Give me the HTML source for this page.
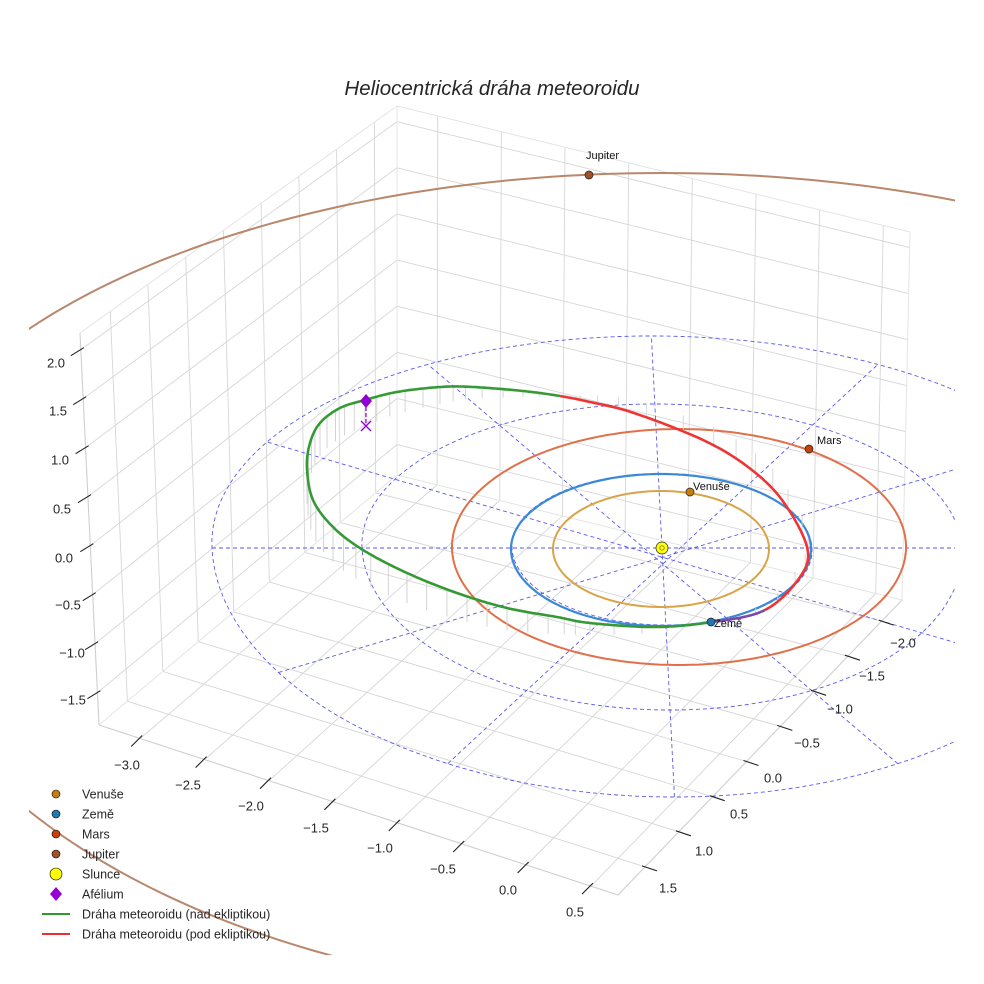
<!DOCTYPE html>
<html><head><meta charset="utf-8">
<style>
html,body{margin:0;padding:0;background:#fff;}
svg{display:block;font-family:"Liberation Sans",sans-serif;}
</style></head>
<body>
<svg id="s" width="984" height="984" viewBox="0 0 984 984" xmlns="http://www.w3.org/2000/svg">
<defs><clipPath id="cj"><rect x="29" y="0" width="926" height="955"/></clipPath>
<clipPath id="cd"><rect x="0" y="0" width="955" height="984"/></clipPath></defs>
<rect width="984" height="984" fill="#fff"/>
<g id="grid"></g>
<g id="orb"></g>
<g id="fg"></g>
<text x="492" y="95" text-anchor="middle" font-size="20.5" font-style="italic" fill="#262626">Heliocentrická dráha meteoroidu</text>
<g font-size="12.5" fill="#262626">
<circle cx="56" cy="794" r="4" fill="#c87d10" stroke="#000" stroke-width="0.6"/><text x="82" y="798.5">Venuše</text>
<circle cx="56" cy="814" r="4" fill="#1f77b4" stroke="#000" stroke-width="0.6"/><text x="82" y="818.5">Země</text>
<circle cx="56" cy="834" r="4" fill="#c8400c" stroke="#000" stroke-width="0.6"/><text x="82" y="838.5">Mars</text>
<circle cx="56" cy="854" r="4" fill="#a0522d" stroke="#000" stroke-width="0.6"/><text x="82" y="858.5">Jupiter</text>
<circle cx="56" cy="874" r="6" fill="#ffff00" stroke="#000" stroke-width="0.6"/><text x="82" y="878.5">Slunce</text>
<path d="M56 887 L62 894 L56 901 L50 894Z" fill="#9400d3"/><text x="82" y="898.5">Afélium</text>
<line x1="42" y1="914" x2="70" y2="914" stroke="#2e9a2e" stroke-width="2"/><text x="82" y="918.5">Dráha meteoroidu (nad ekliptikou)</text>
<line x1="42" y1="934" x2="70" y2="934" stroke="#e83030" stroke-width="2"/><text x="82" y="938.5">Dráha meteoroidu (pod ekliptikou)</text>
</g>
</svg>
<script>
var NS="http://www.w3.org/2000/svg";
function el(p,t,a){var e=document.createElementNS(NS,t);for(var k in a)e.setAttribute(k,a[k]);p.appendChild(e);return e;}
var G=document.getElementById('grid'),O=document.getElementById('orb'),F=document.getElementById('fg');
var xmin=-3.32,xmax=0.71,ymin=-2.3,ymax=1.9,zmin=-1.83,zmax=2.17;
var B={a:[397,475],b:[902,600],c:[99,725],d:[618,895]};
var T={a:[397,106],b:[910,232],c:[80,333],d:[605,485]};
function bl(Q,u,v,i){return (1-u)*(1-v)*Q.a[i]+u*(1-v)*Q.b[i]+(1-u)*v*Q.c[i]+u*v*Q.d[i];}
function P(x,y,z){var u=(x-xmin)/(xmax-xmin),v=(y-ymin)/(ymax-ymin),w=(z-zmin)/(zmax-zmin);
var bx=bl(B,u,v,0),by=bl(B,u,v,1),tx=bl(T,u,v,0),ty=bl(T,u,v,1);return [bx+(tx-bx)*w,by+(ty-by)*w];}
function L(p,q,c,w,par){return el(par||G,'line',{x1:p[0].toFixed(1),y1:p[1].toFixed(1),x2:q[0].toFixed(1),y2:q[1].toFixed(1),stroke:c,'stroke-width':w});}
var gc="#d6d6d6";
var xt=[-3,-2.5,-2,-1.5,-1,-0.5,0,0.5],yt=[-2,-1.5,-1,-0.5,0,0.5,1,1.5],zt=[-1.5,-1,-0.5,0,0.5,1,1.5,2];
xt.forEach(function(x){L(P(x,ymin,zmin),P(x,ymax,zmin),gc,0.9);});
yt.forEach(function(y){L(P(xmin,y,zmin),P(xmax,y,zmin),gc,0.9);});
xt.forEach(function(x){L(P(x,ymin,zmin),P(x,ymin,zmax),gc,0.9);});
zt.forEach(function(z){L(P(xmin,ymin,z),P(xmax,ymin,z),gc,0.9);});
yt.forEach(function(y){L(P(xmin,y,zmin),P(xmin,y,zmax),gc,0.9);});
zt.forEach(function(z){L(P(xmin,ymin,z),P(xmin,ymax,z),gc,0.9);});
var ec="#e4e4e4";
[[[xmin,ymin,zmax],[xmax,ymin,zmax]],[[xmax,ymin,zmax],[xmax,ymin,zmin]],[[xmin,ymin,zmax],[xmin,ymax,zmax]],[[xmin,ymin,zmin],[xmin,ymin,zmax]],[[xmin,ymin,zmin],[xmax,ymin,zmin]],[[xmin,ymin,zmin],[xmin,ymax,zmin]]].forEach(function(e){L(P.apply(null,e[0]),P.apply(null,e[1]),ec,1);});
var ac="#cfcfcf";
L(P(xmin,ymax,zmin),P(xmax,ymax,zmin),ac,1.1);
L(P(xmax,ymax,zmin),P(xmax,ymin,zmin),ac,1.1);
L(P(xmin,ymax,zmin),P(xmin,ymax,zmax),ac,1.1);
var tc="#222";
xt.forEach(function(x){var p=P(x,ymax,zmin);L([p[0]+2,p[1]-3],[p[0]-9,p[1]+8],tc,1.1,F);});
yt.forEach(function(y){var p=P(xmax,y,zmin);L([p[0]-3,p[1]-1],[p[0]+12,p[1]+4],tc,1.1,F);});
zt.forEach(function(z){var p=P(xmin,ymax,z);L([p[0]+3,p[1]-2],[p[0]-10,p[1]+6],tc,1.1,F);});
function T2(x,y,s,par){var t=el(par||F,'text',{x:x,y:y+4.5,'text-anchor':'middle','font-size':13,fill:'#262626'});t.textContent=s;}
function lab(v){return (v<0?'\u2212':'')+Math.abs(v).toFixed(1);}
var xl=[[127,765],[188,785],[251,806],[316,828],[380,848],[443,869],[508,890],[575,912]];
xt.forEach(function(v,i){T2(xl[i][0],xl[i][1],lab(v));});
var yl=[[903,643],[872,676],[840,709],[807,743],[773,778],[739,814],[704,851],[668,888]];
yt.forEach(function(v,i){T2(yl[i][0],yl[i][1],lab(v));});
var zl=[[73,700],[72,653],[68,605],[64,558],[62,509],[60,460],[58,411],[56,363]];
zt.forEach(function(v,i){T2(zl[i][0],zl[i][1],lab(v));});

var cx=662,cy=548;
function ring(rx,ru,rd,sh){var d="";for(var i=0;i<=360;i++){var t=i*Math.PI/180,s=Math.sin(t),c=Math.cos(t);var dy=(s<0?ru:rd)*s;var x=cx+rx*c+sh*dy,y=cy+dy;d+=(i?"L":"M")+x.toFixed(1)+" "+y.toFixed(1);}return d;}
var dg=el(O,'g',{'clip-path':'url(#cd)'});
[[150,74,77],[300,144,162],[450,212,249]].forEach(function(r){el(dg,'path',{d:ring(r[0],r[1],r[2],0.05),fill:'none',stroke:'#5a5aee','stroke-width':0.9,'stroke-dasharray':'4,3'});});
for(var k=0;k<6;k++){var t=k*Math.PI/6;var pts=[];[t,t+Math.PI].forEach(function(a){var s=Math.sin(a),c=Math.cos(a);var dy=(s<0?212:249)*s;pts.push([cx+450*c+0.05*dy,cy+dy]);});
el(dg,'line',{x1:pts[0][0],y1:pts[0][1],x2:pts[1][0],y2:pts[1][1],stroke:'#5a5aee','stroke-width':0.9,'stroke-dasharray':'4,3'});}
function ell(cx2,cy2,rx,ru,rd){var d="";for(var i=0;i<=360;i++){var t=i*Math.PI/180,s=Math.sin(t),c=Math.cos(t);d+=(i?"L":"M")+(cx2+rx*c).toFixed(1)+" "+(cy2+(s<0?ru:rd)*s).toFixed(1);}return d;}
el(O,'path',{d:ell(662,548,780,375,450),fill:'none',stroke:'#b9876c','stroke-width':2,'clip-path':'url(#cj)'});
el(O,'path',{d:ell(679,547,227,118,118),fill:'none',stroke:'#e0704a','stroke-width':2});
el(O,'path',{d:ell(661,549,150,75,77),fill:'none',stroke:'#3a88d8','stroke-width':2.2});
el(O,'path',{d:ell(661,549,108,58,58),fill:'none',stroke:'#d9a448','stroke-width':2});

var K=[[560,396],[590,402],[634,413],[703,440],[748,467],[782,500],[807,547],[800,577],[765,610],[712,622],[655,627],[590,623],[557,617],[507,608],[457,593],[407,573],[363,550],[333,527],[313,500],[307,468],[310,443],[320,423],[340,408],[365,400],[397,392],[440,387],[473,387],[523,391]];
var n=K.length,D=[],idx=[];
for(var i=0;i<n;i++){var p0=K[(i-1+n)%n],p1=K[i],p2=K[(i+1)%n],p3=K[(i+2)%n];idx.push(D.length);
for(var j=0;j<20;j++){var t=j/20,t2=t*t,t3=t2*t;
var f=function(a,b,c,d){return 0.5*((2*b)+(-a+c)*t+(2*a-5*b+4*c-d)*t2+(-a+3*b-3*c+d)*t3);};
D.push([f(p0[0],p1[0],p2[0],p3[0]),f(p0[1],p1[1],p2[1],p3[1])]);}}
D.push(D[0]);
function seg(a,b){var s="";for(var i=a;i<=b;i++)s+=(i==a?"M":"L")+D[i][0].toFixed(1)+" "+D[i][1].toFixed(1);return s;}
var gi0=idx[9],N=D.length-1,ri1=idx[9];
for(var i=gi0;i<N;i+=8){var fr=(i-gi0)/(N-gi0);var Ls=Math.sin(fr*Math.PI)*36;L(D[i],[D[i][0],D[i][1]+Ls],'#cfcfcf',0.9,O);}
for(var i=4;i<ri1;i+=10){var fr=i/ri1;var Ls=Math.sin(fr*Math.PI)*20;L(D[i],[D[i][0],D[i][1]-Ls],'#d4d4d4',0.9,O);}
el(O,'path',{d:seg(0,idx[8]),fill:'none',stroke:'#ee3434','stroke-width':2.6});
el(O,'path',{d:seg(idx[8],idx[9]),fill:'none',stroke:'#7a4aa8','stroke-width':2.6});
el(O,'path',{d:seg(idx[9],N),fill:'none',stroke:'#359a35','stroke-width':2.6});

el(F,'line',{x1:366,y1:401,x2:366,y2:426,stroke:'#9400d3','stroke-width':1.2,'stroke-dasharray':'4,2'});
el(F,'path',{d:'M366 394 L372 401 L366 408 L360 401Z',fill:'#9400d3'});
el(F,'path',{d:'M361 421 L371 431 M371 421 L361 431',stroke:'#9400d3','stroke-width':1.3});
function dot(x,y,r,c){el(F,'circle',{cx:x,cy:y,r:r,fill:c,stroke:'#222','stroke-width':0.7});}
dot(589,175,4,'#a0522d');dot(809,449,4,'#c8400c');dot(690,492,4,'#c87d10');dot(711,622,4,'#1f77b4');
dot(662,548,6,'#ffff00');el(F,'circle',{cx:662,cy:548,r:2.2,fill:'none',stroke:'#555','stroke-width':0.7});
function tx(x,y,s){var t=el(F,'text',{x:x,y:y,'font-size':11,fill:'#111'});t.textContent=s;}
tx(586,159,'Jupiter');tx(817,444,'Mars');tx(693,490,'Venuše');tx(714,627,'Země');
</script>
</body></html>
